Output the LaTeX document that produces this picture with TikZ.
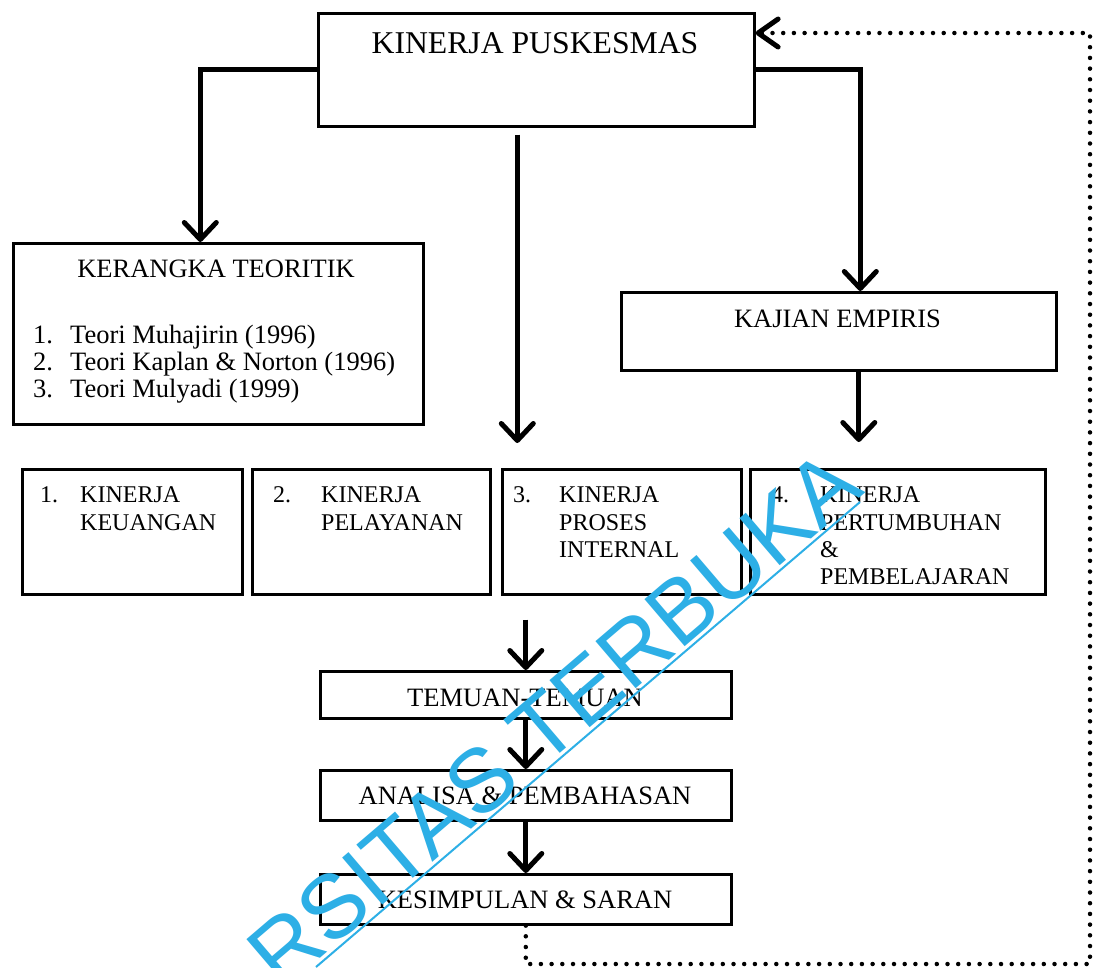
\documentclass[tikz,border=0pt]{standalone}
\usepackage{fontspec}
\setmainfont{Liberation Serif}
\newfontfamily\wmfont{Liberation Sans}
\usetikzlibrary{arrows.meta}
\definecolor{wm}{RGB}{45,175,230}
\begin{document}
\begin{tikzpicture}[x=1pt,y=-1pt,
 box/.style={draw, line width=2.6pt, rectangle, inner sep=0pt, anchor=north west},
 lbl/.style={inner sep=0pt, font=\fontsize{26.5}{27}\selectfont},
 lbs/.style={inner sep=0pt, font=\fontsize{24}{28}\selectfont},
 conn/.style={line width=5pt, -{Straight Barb[length=17pt,width=32pt,round]}},
 dots/.style={line width=4.5pt, line cap=round, dash pattern=on 0pt off 10.7pt},
]
\useasboundingbox (0,0) rectangle (1095,967);
\fill[white] (0,0) rectangle (1095,967);

% boxes
\node[box, minimum width=436, minimum height=113] (top) at (317,12) {};
\node[box, minimum width=410, minimum height=181] (ker) at (12,242) {};
\node[box, minimum width=435, minimum height=78] (kaj) at (620,291) {};
\node[box, minimum width=220, minimum height=125] (b1) at (21,468) {};
\node[box, minimum width=238, minimum height=125] (b2) at (251,468) {};
\node[box, minimum width=239, minimum height=125] (b3) at (501,468) {};
\node[box, minimum width=295, minimum height=125] (b4) at (749,468) {};
\node[box, minimum width=411, minimum height=47] (tem) at (319,670) {};
\node[box, minimum width=411, minimum height=50] (ana) at (319,769) {};
\node[box, minimum width=411, minimum height=50] (kes) at (319,873) {};

% texts
\node[inner sep=0pt, anchor=base, font=\fontsize{31.7}{32}\selectfont] (ttop) at (535,53) {KINERJA PUSKESMAS};
\node[lbl, anchor=base] (tker) at (216,277) {KERANGKA TEORITIK};
\node[lbl, anchor=base west] (kn1) at (33,343) {1.};
\node[lbl, anchor=base west] (kt1) at (70,343) {Teori Muhajirin (1996)};
\node[lbl, anchor=base west] (kn2) at (33,370) {2.};
\node[lbl, anchor=base west] (kt2) at (70,370) {Teori Kaplan \& Norton (1996)};
\node[lbl, anchor=base west] (kn3) at (33,397) {3.};
\node[lbl, anchor=base west] (kt3) at (70,397) {Teori Mulyadi (1999)};
\node[lbl, anchor=base] (tkaj) at (837.5,327) {KAJIAN EMPIRIS};

\node[lbs, anchor=base west] (n1) at (40,502) {1.};
\node[lbs, anchor=base west] (t1a) at (80,502) {KINERJA};
\node[lbs, anchor=base west] (t1b) at (80,530) {KEUANGAN};
\node[lbs, anchor=base west] (n2) at (273,502) {2.};
\node[lbs, anchor=base west] (t2a) at (321,502) {KINERJA};
\node[lbs, anchor=base west] (t2b) at (321,530) {PELAYANAN};
\node[lbs, anchor=base west] (n3) at (513,502) {3.};
\node[lbs, anchor=base west] (t3a) at (559,502) {KINERJA};
\node[lbs, anchor=base west] (t3b) at (559,530) {PROSES};
\node[lbs, anchor=base west] (t3c) at (559,557) {INTERNAL};
\node[lbs, anchor=base west] (n4) at (771,502) {4.};
\node[lbs, anchor=base west] (t4a) at (820,502) {KINERJA};
\node[lbs, anchor=base west] (t4b) at (820,530) {PERTUMBUHAN};
\node[lbs, anchor=base west] (t4c) at (820,557) {\&};
\node[lbs, anchor=base west] (t4d) at (820,584) {PEMBELAJARAN};

\node[lbl, anchor=base] (ttem) at (525,706) {TEMUAN-TEMUAN};
\node[lbl, anchor=base] (tana) at (525,804) {ANALISA \& PEMBAHASAN};
\node[lbl, anchor=base] (tkes) at (525,908) {KESIMPULAN \& SARAN};

% connectors
\draw[conn] (top.west) -| ([xshift=-18pt]ker.north);
\draw[conn] (top.east) -| ([xshift=21.5pt]kaj.north);
\draw[conn, shorten <=7pt, shorten >=25pt] ([xshift=-19pt]top.south) -- ([xshift=-19pt]top.south |- b3.north);
\draw[conn, shorten >=26pt] ([xshift=20pt]kaj.south) -- ([xshift=20pt]kaj.south |- b4.north);
\draw[conn, shorten <=24pt] (tem.north |- b3.south) -- (tem.north);
\draw[conn] (tem.south) -- (ana.north);
\draw[conn] (ana.south) -- (kes.north);

\coordinate (br) at (1090,964);
\coordinate (tr) at (1090,33);
\draw[dots, -{Straight Barb[length=20pt,width=28pt,line width=5pt,round]}] (kes.south) |- (br) -- (tr) -- (tr -| top.east);

% watermark
\node[rotate=40.5, anchor=base east, inner sep=0pt, text=wm, font=\wmfont\fontsize{90}{90}\selectfont] (wmk) at (866,492) {RSITAS TERBUKA};
\coordinate (wa) at (316,967);
\coordinate (wb) at (860,502);
\draw[wm, line width=2pt] (wa) -- (wb);
\end{tikzpicture}
\end{document}
